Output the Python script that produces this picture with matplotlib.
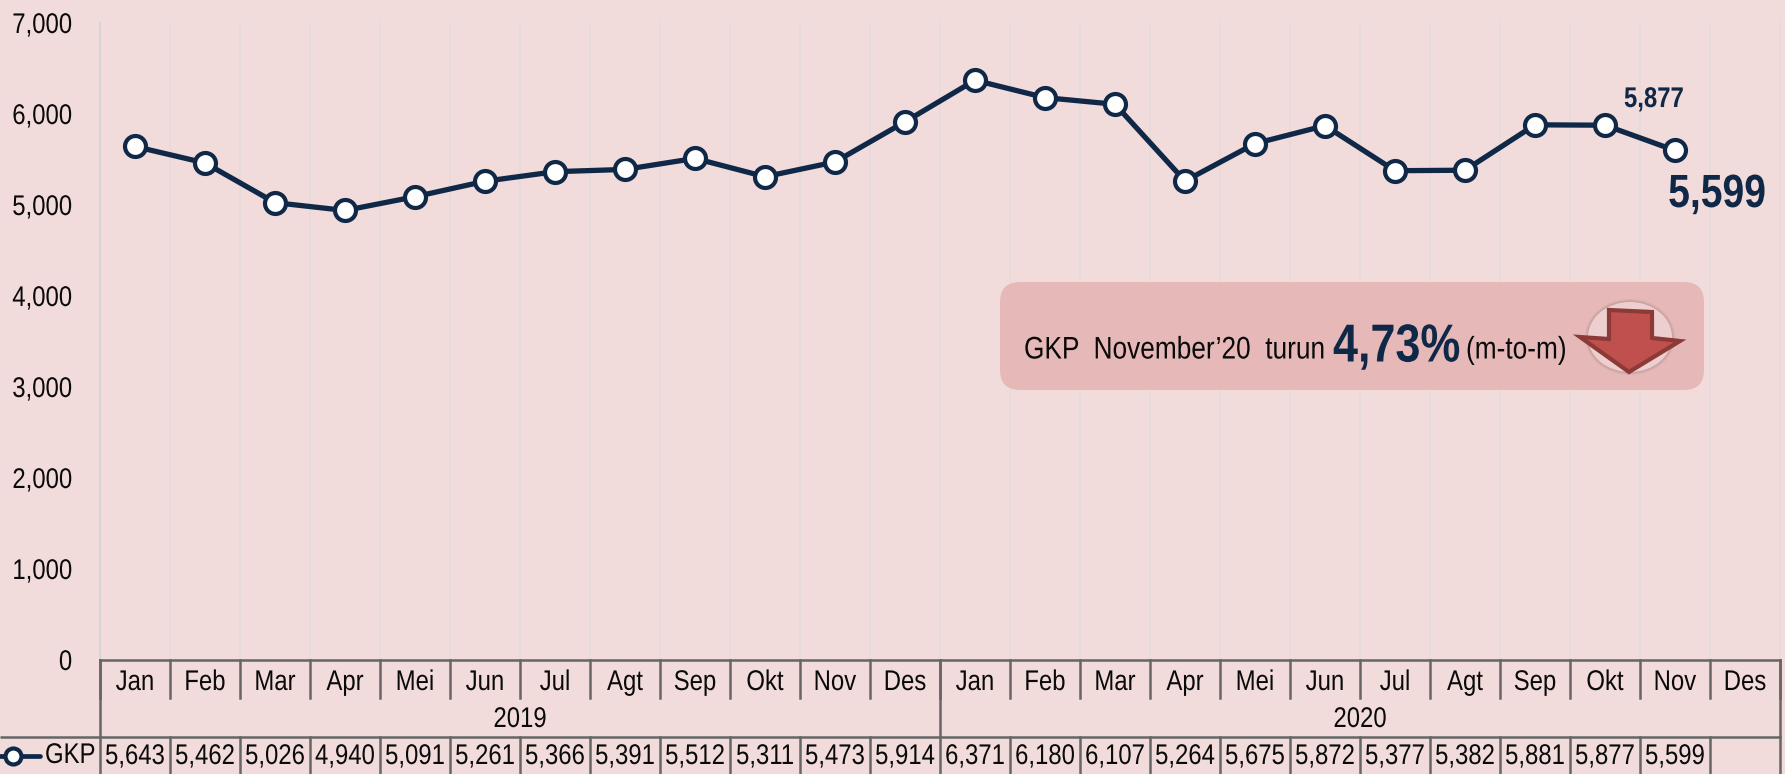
import numpy as np
import matplotlib
matplotlib.use("Agg")
import matplotlib.pyplot as plt
import matplotlib.transforms as mtransforms
import matplotlib.patheffects as pe
from matplotlib.patches import FancyBboxPatch, Ellipse, Polygon
from matplotlib.lines import Line2D

months = ["Jan", "Feb", "Mar", "Apr", "Mei", "Jun", "Jul", "Agt", "Sep", "Okt", "Nov", "Des"] * 2
years = ["2019", "2020"]
gkp_2019 = [5643, 5462, 5026, 4940, 5091, 5261, 5366, 5391, 5512, 5311, 5473, 5914]
gkp_2020 = [6371, 6180, 6107, 5264, 5675, 5872, 5377, 5382, 5881, 5877, 5599, np.nan]
y_ticks = [0, 1000, 2000, 3000, 4000, 5000, 6000, 7000]
series_name = "GKP"

BG = "#F2DCDB"
NAVY = "#0F2847"
GRID = "#E4DADA"
RULE = "#666666"
INK = "#0A0A0A"
FS = 20.5
plt.rcParams["font.family"] = ["Liberation Sans", "DejaVu Sans"]


class Condense(pe.AbstractPathEffect):
    """Squeeze a text horizontally about its anchor (the reference uses a narrow face)."""
    def __init__(self, text, sx=0.84):
        super().__init__()
        self.text, self.sx = text, sx

    def draw_path(self, renderer, gc, tpath, affine, rgbFace=None):
        cx = self.text.get_transform().transform(self.text.get_position())[0]
        squeeze = mtransforms.Affine2D().translate(-cx, 0).scale(self.sx, 1).translate(cx, 0)
        renderer.draw_path(gc, tpath, affine + squeeze, rgbFace)


def narrow(t, sx=0.84):
    t.set_path_effects([Condense(t, sx)])
    return t


W, H = 1785, 774
L, R, T, B = 100, 1780, 23, 660
fig = plt.figure(figsize=(W / 100, H / 100), dpi=100, facecolor=BG)
ax = fig.add_axes([L / W, 1 - B / H, (R - L) / W, (B - T) / H], facecolor="none", zorder=3)
px = fig.add_axes([0, 0, 1, 1], facecolor="none", zorder=1)
px.set_xlim(0, W); px.set_ylim(H, 0); px.axis("off")

values = np.array(gkp_2019 + gkp_2020, dtype=float)
xs = np.arange(len(values)) + 0.5

ax.set_xlim(0, len(values)); ax.set_ylim(0, 7000)
ax.set_yticks(y_ticks)
ax.set_yticklabels([f"{v:,}" for v in y_ticks], fontsize=FS, color=INK)
ax.tick_params(axis="y", length=0, pad=20)
for lab in ax.get_yticklabels():
    narrow(lab)
ax.set_xticks([])
for s in ax.spines.values():
    s.set_visible(False)

ax.plot(xs, values, color=NAVY, lw=3.8, marker="o", ms=15.1, mfc="white", mec=NAVY, mew=3.0, zorder=4, clip_on=False)

# table under the chart: x follows the axis scale, y in pixels
tr = mtransforms.blended_transform_factory(ax.transData, px.transData)
n = len(values)
for i in range(n + 1):
    px.add_line(Line2D([i, i], [T, B], transform=tr, color="#D9D5D5" if i == 0 else GRID,
                       lw=1.6 if i == 0 else 1.1, zorder=1))


def rule(x0, x1, y0, y1):
    px.add_line(Line2D([x0, x1], [y0, y1], color=RULE, lw=1.8, transform=tr, solid_capstyle="projecting", zorder=2))


rule(0, n, B, B)
px.add_line(Line2D([0, R], [737, 737], color=RULE, lw=1.8, solid_capstyle="butt", zorder=2))
for i in range(n + 1):
    rule(i, i, B, 698)
    rule(i, i, 737, H)
for i in (0, 12, 24):
    rule(i, i, B, 737)
for i in range(n):
    narrow(px.text(i + 0.5, 683, months[i], transform=tr, ha="center", va="center", fontsize=FS, color=INK))
    if not np.isnan(values[i]):
        narrow(px.text(i + 0.5, 757, f"{int(values[i]):,}", transform=tr, ha="center", va="center", fontsize=FS, color=INK))
for j, yr in enumerate(years):
    narrow(px.text(6 + 12 * j, 720, yr, transform=tr, ha="center", va="center", fontsize=FS, color=INK))

# legend key in the table
px.add_line(Line2D([0, 40], [756, 756], color=NAVY, lw=3.4, solid_capstyle="round", zorder=3))
px.add_line(Line2D([13], [756], marker="o", ms=11.5, mfc="white", mec=NAVY, mew=3.0, color=NAVY, zorder=4))
narrow(px.text(45, 756, series_name, ha="left", va="center", fontsize=FS, color=INK))

# value call-outs
narrow(px.text(1654, 100, f"{int(gkp_2020[9]):,}", ha="center", va="center", fontsize=20.5, fontweight="bold", color=NAVY, zorder=5))
narrow(px.text(1717, 195, f"{int(gkp_2020[10]):,}", ha="center", va="center", fontsize=33.5, fontweight="bold", color=NAVY, zorder=5))

# note box
px.add_patch(FancyBboxPatch((1020, 302), 664, 68, boxstyle="round,pad=20,rounding_size=20",
                            fc="#E6B9B8", ec="none", zorder=3))
narrow(px.text(1024, 347, "GKP  November\u201920  turun", ha="left", va="center_baseline", fontsize=22.5, color=INK, zorder=5))
narrow(px.text(1333, 342, "4,73%", ha="left", va="center_baseline", fontsize=38.5, fontweight="bold", color=NAVY, zorder=5))
narrow(px.text(1466, 347, "(m-to-m)", ha="left", va="center_baseline", fontsize=22.5, color=INK, zorder=5))
for grow, a in ((6, 0.12), (3, 0.2), (0, 1.0)):
    px.add_patch(Ellipse((1630, 337), 84 + grow, 70 + grow, fc="#8A7070" if grow else "#ECCFCE", ec="none", alpha=a, zorder=4))
px.add_patch(Polygon([(1609, 310), (1652, 312), (1652, 338), (1680, 341), (1629, 372), (1580, 337), (1609, 339)],
                     closed=True, fc="#C0504D", ec="#8C3A38", lw=3, joinstyle="miter", zorder=4.5))

fig.savefig("out.png", dpi=100, facecolor=BG)
